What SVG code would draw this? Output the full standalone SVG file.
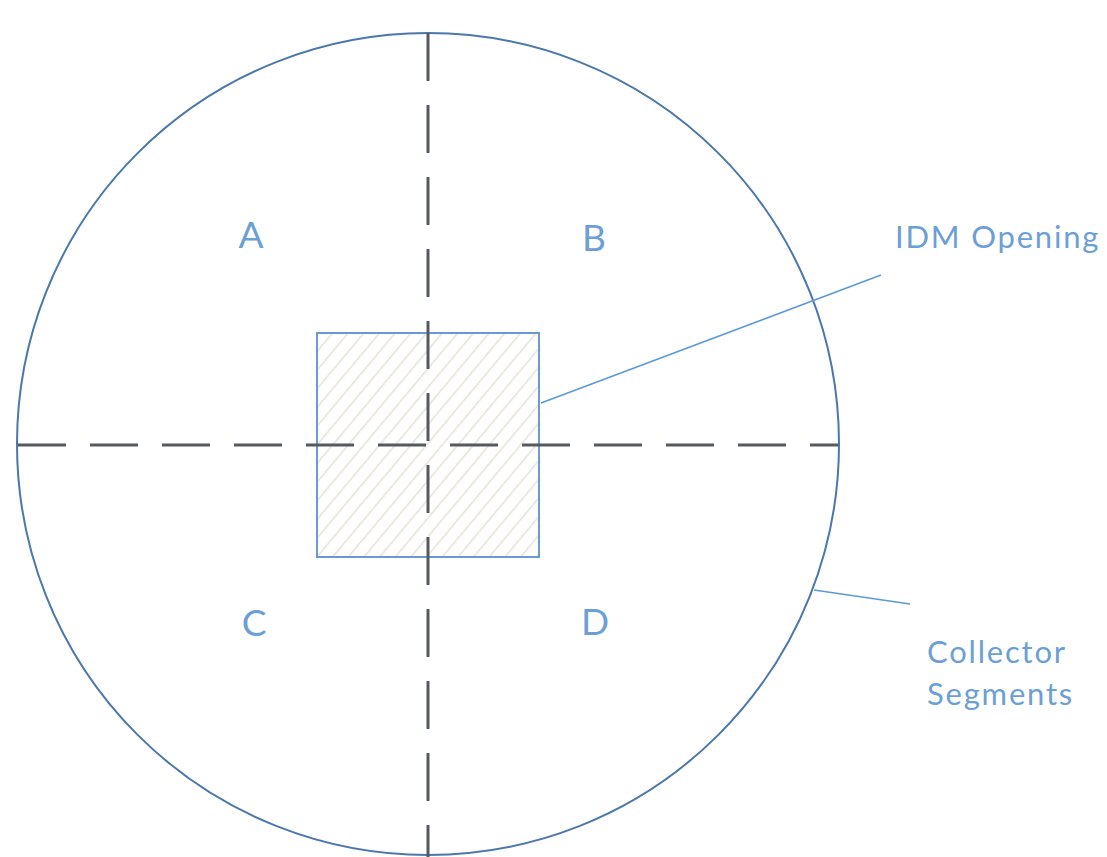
<svg xmlns="http://www.w3.org/2000/svg" width="1107" height="857" viewBox="0 0 1107 857">
  <style>
    .lbl { font-family: Lato, "Open Sans", sans-serif; fill: #6b9fd6; }
    .quad { font-size: 37px; text-anchor: middle; }
    .note { font-size: 31px; letter-spacing: 1.8px; }
    .axis { stroke: #555a60; stroke-width: 3; stroke-dasharray: 48 24; fill: none; }
    .leader { stroke: #5b9bd5; stroke-width: 1.6; fill: none; }
  </style>
  <defs>
    <pattern id="hatch" patternUnits="userSpaceOnUse" width="12" height="12" patternTransform="rotate(40)">
      <line x1="0" y1="0" x2="0" y2="12" stroke="#e6e2da" stroke-width="3"/>
    </pattern>
  </defs>
  <rect width="1107" height="857" fill="#ffffff"/>

  <!-- collector outline -->
  <g id="collector">
    <circle cx="428" cy="444" r="411" fill="none" stroke="#4a78ad" stroke-width="2"/>
  </g>

  <!-- opening in the middle -->
  <g id="idm-opening">
    <rect x="317" y="333" width="222" height="224" fill="url(#hatch)" stroke="#6a9bd0" stroke-width="2"/>
  </g>

  <!-- segment dividers -->
  <g id="dividers">
    <line class="axis" x1="428" y1="33" x2="428" y2="857"/>
    <line class="axis" x1="18" y1="445" x2="838" y2="445"/>
  </g>

  <!-- quadrant names -->
  <g id="segment-a"><text class="lbl quad" x="251" y="248">A</text></g>
  <g id="segment-b"><text class="lbl quad" x="594" y="251">B</text></g>
  <g id="segment-c"><text class="lbl quad" x="254" y="636">C</text></g>
  <g id="segment-d"><text class="lbl quad" x="595" y="635">D</text></g>

  <!-- callouts -->
  <g id="connectors">
    <line class="leader" x1="541" y1="403" x2="881" y2="275"/>
    <line class="leader" x1="814" y1="590" x2="910" y2="604"/>
  </g>
  <g id="label-idm"><text class="lbl note" x="895" y="248">IDM Opening</text></g>
  <g id="label-collector">
    <text class="lbl note" x="927" y="663">Collector</text>
    <text class="lbl note" x="927" y="705">Segments</text>
  </g>
</svg>
